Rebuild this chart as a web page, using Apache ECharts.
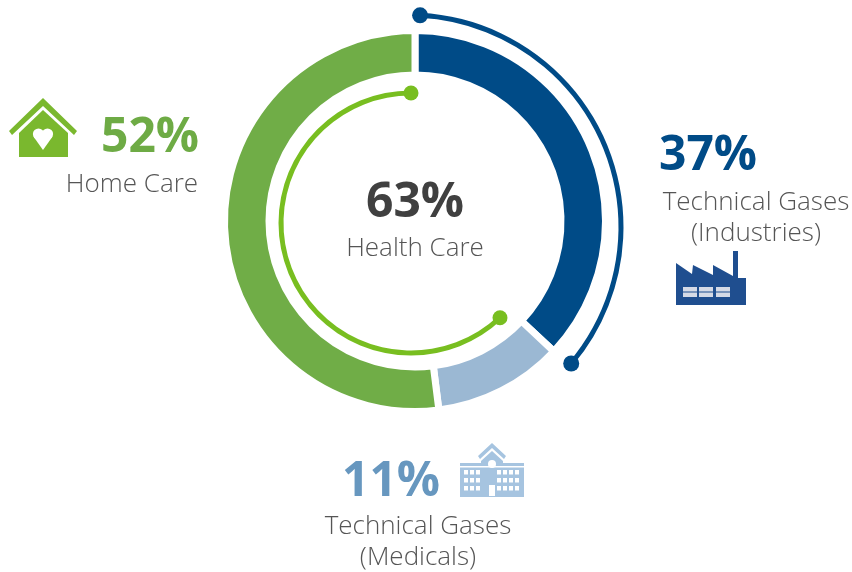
<!DOCTYPE html>
<html>
<head>
<meta charset="utf-8">
<script src="https://cdn.jsdelivr.net/npm/echarts@6/dist/echarts.min.js"></script>
<style>html,body{margin:0;padding:0;background:#fff}#c{width:852px;height:572px}</style>
</head>
<body>
<div id="c"></div>
<script>
const segmentNames = ['Technical Gases (Industries)', 'Technical Gases (Medicals)', 'Home Care'];
const segmentValues = [37, 11, 52];
const segmentColors = ['#004B87', '#9BB8D3', '#70AD47'];
const healthArc = [62, 38];
const industryArc = [35.3, 64.7];
const percentLabels = ['37%', '11%', '52%', '63%'];
const FONT = '"Open Sans", sans-serif';
const TEXT = '#555555';

function bigText(text, x, y, fill) {
  return { type: 'text', x, y, silent: true, style: { text, fill, font: 'bold 48px ' + FONT, textAlign: 'center', textVerticalAlign: 'middle' } };
}
function smallText(text, x, y) {
  return { type: 'text', x, y, silent: true, style: { text, fill: TEXT, font: '300 26px ' + FONT, textAlign: 'center', textVerticalAlign: 'middle' } };
}
function poly(points, fill) {
  return { type: 'polygon', silent: true, shape: { points }, style: { fill } };
}
function box(x, y, width, height, fill) {
  return { type: 'rect', silent: true, shape: { x, y, width, height }, style: { fill } };
}
function dot(cx, cy, r, fill) {
  return { type: 'circle', silent: true, shape: { cx, cy, r }, style: { fill } };
}

const WHITE = '#ffffff';
const HOUSE = '#7AB82E';
const houseIcon = [
  poly([[43, 98], [77, 131], [74, 135], [43, 106], [12, 135], [9, 131]], HOUSE),
  poly([[43, 110], [68, 133], [68, 157], [19, 157], [19, 133]], HOUSE),
  dot(38.5, 134, 5.6, WHITE), dot(47.5, 134, 5.6, WHITE),
  poly([[33.4, 136.5], [43, 150], [52.6, 136.5], [43, 132]], WHITE)
];
const FACTORY = '#1F4E8F';
const WIN = '#D5DAE6';
const factoryIcon = [
  poly([[676, 263], [692, 274], [693, 265], [713, 275], [713, 265], [733, 276], [733, 251], [738, 251], [738, 278], [746, 278], [746, 305], [676, 305]], FACTORY)
];
[683, 699, 716].forEach(x => factoryIcon.push(box(x, 287, 14, 4.5, WIN), box(x, 292.5, 14, 4.5, WIN)));
const HOSP = '#A6C4E0';
const hospitalIcon = [
  poly([[492, 443], [506, 456], [504, 459], [492, 448], [480, 459], [478, 456]], HOSP),
  poly([[492, 451], [503, 461], [503, 463], [524, 463], [524, 497], [460, 497], [460, 463], [481, 463], [481, 461]], HOSP),
  box(460, 466, 64, 1.5, WHITE)
];
[464, 470, 476, 497, 503, 509, 515].forEach(x => [470, 478, 486].forEach(y => hospitalIcon.push(box(x, y, 4, 4.5, WHITE))));
hospitalIcon.push(box(489, 485, 6, 11, WHITE), dot(492, 464, 4, WHITE));

const option = {
  animation: false,
  backgroundColor: '#ffffff',
  polar: [
    { center: [411, 223], radius: 130 },
    { center: [409, 227], radius: 212 }
  ],
  angleAxis: [
    { polarIndex: 0, type: 'value', min: 0, max: 100, startAngle: 90, clockwise: true, show: false },
    { polarIndex: 1, type: 'value', min: 0, max: 100, startAngle: 87, clockwise: true, show: false }
  ],
  radiusAxis: [
    { polarIndex: 0, type: 'value', min: 0, max: 1, show: false },
    { polarIndex: 1, type: 'value', min: 0, max: 1, show: false }
  ],
  series: [
    {
      type: 'pie', silent: true, center: [415, 221], radius: [146, 190.5], startAngle: 90, clockwise: true,
      label: { show: false }, labelLine: { show: false },
      itemStyle: { borderColor: '#fff', borderWidth: 7 },
      data: segmentNames.map((name, i) => ({ name, value: segmentValues[i], itemStyle: { color: segmentColors[i] } }))
    },
    {
      type: 'pie', silent: true, center: [411, 223], radius: [127.5, 132.5], startAngle: 90, clockwise: false,
      label: { show: false }, labelLine: { show: false },
      data: [
        { value: healthArc[0], itemStyle: { color: '#78BE20' } },
        { value: healthArc[1], itemStyle: { color: 'rgba(0,0,0,0)' } }
      ]
    },
    {
      type: 'pie', silent: true, center: [409, 227], radius: [209.5, 214.5], startAngle: 87, clockwise: true,
      label: { show: false }, labelLine: { show: false },
      data: [
        { value: industryArc[0], itemStyle: { color: '#004B87' } },
        { value: industryArc[1], itemStyle: { color: 'rgba(0,0,0,0)' } }
      ]
    },
    {
      type: 'scatter', coordinateSystem: 'polar', polarIndex: 0, silent: true, symbolSize: 15,
      itemStyle: { color: '#78BE20', opacity: 1 },
      data: [[1, 0], [1, healthArc[1]]]
    },
    {
      type: 'scatter', coordinateSystem: 'polar', polarIndex: 1, silent: true, symbolSize: 16,
      itemStyle: { color: '#004B87', opacity: 1 },
      data: [[1, 0], [1, industryArc[0]]]
    }
  ],
  graphic: { elements: [
    bigText(percentLabels[3], 415, 203, '#404040'),
    smallText('Health Care', 415, 249),
    bigText(percentLabels[2], 150, 138, '#6EAB45'),
    smallText('Home Care', 132, 185),
    bigText(percentLabels[0], 708, 156, '#004B87'),
    smallText('Technical Gases', 756, 203),
    smallText('(Industries)', 756, 234),
    bigText(percentLabels[1], 391, 482, '#6797BF'),
    smallText('Technical Gases', 418, 527),
    smallText('(Medicals)', 418, 558),
    ...houseIcon, ...factoryIcon, ...hospitalIcon
  ] }
};
echarts.init(document.getElementById('c'), null, { renderer: 'canvas' }).setOption(option);
</script>
</body>
</html>
